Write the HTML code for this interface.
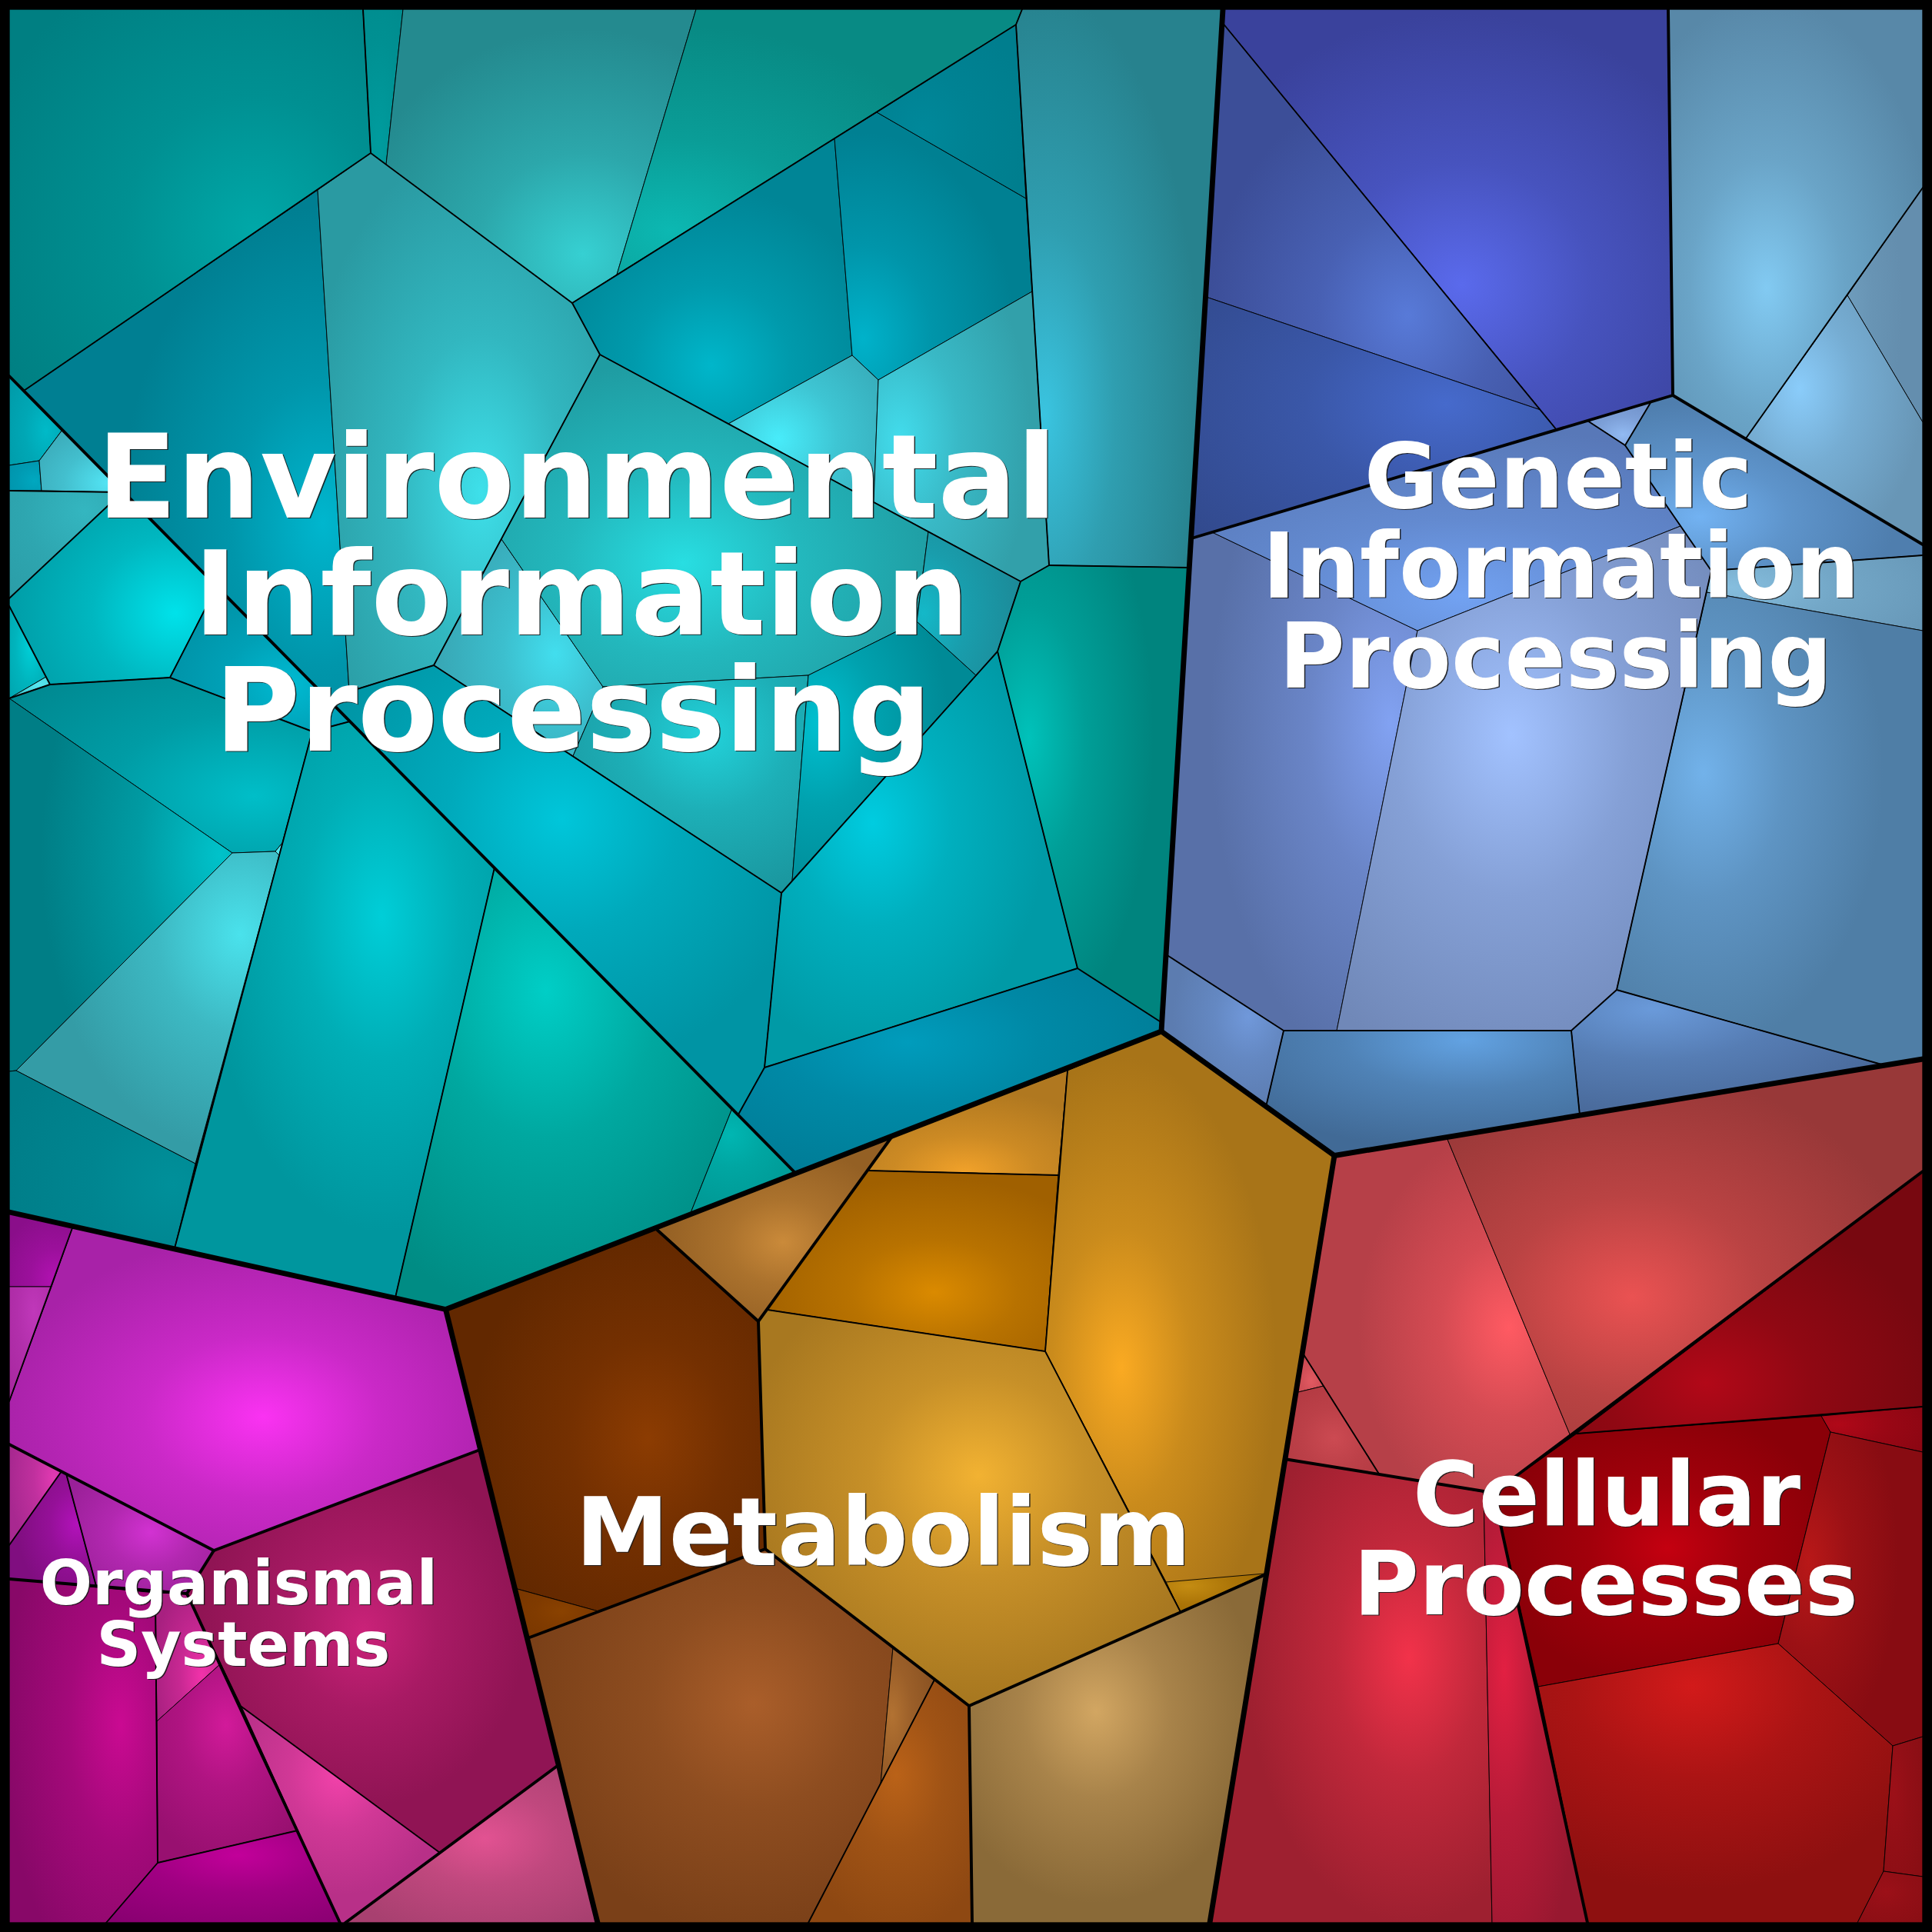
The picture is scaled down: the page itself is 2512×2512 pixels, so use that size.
<!DOCTYPE html>
<html><head><meta charset="utf-8"><title>Treemap</title>
<style>
html,body{margin:0;padding:0;background:#000;}
svg{display:block;}
text{font-family:"DejaVu Sans","Liberation Sans",sans-serif;font-weight:bold;text-anchor:middle;}
</style></head><body>
<svg width="2512" height="2512" viewBox="0 0 2512 2512">
<defs>
<radialGradient id="g0" cx="0.6766" cy="0.5806" r="0.7870" fx="0.6766" fy="0.5806"><stop offset="0" stop-color="#00a8a8"/><stop offset="0.45" stop-color="#009092"/><stop offset="1" stop-color="#007f82"/></radialGradient>
<radialGradient id="g1" cx="0.3846" cy="0.8564" r="1.4636" fx="0.3846" fy="0.8564"><stop offset="0" stop-color="#009c9e"/><stop offset="0.45" stop-color="#009092"/><stop offset="1" stop-color="#00878a"/></radialGradient>
<radialGradient id="g2" cx="0.6352" cy="0.8325" r="0.7646" fx="0.6352" fy="0.8325"><stop offset="0" stop-color="#36d0d2"/><stop offset="0.45" stop-color="#2ca7ab"/><stop offset="1" stop-color="#248a8f"/></radialGradient>
<radialGradient id="g3" cx="0.1328" cy="0.8348" r="0.7739" fx="0.1328" fy="0.8348"><stop offset="0" stop-color="#0cb8b2"/><stop offset="0.45" stop-color="#0a9d97"/><stop offset="1" stop-color="#088a84"/></radialGradient>
<radialGradient id="g4" cx="0.9196" cy="0.6551" r="0.6241" fx="0.9196" fy="0.6551"><stop offset="0" stop-color="#00b6ce"/><stop offset="0.45" stop-color="#0096ab"/><stop offset="1" stop-color="#007f92"/></radialGradient>
<radialGradient id="g5" cx="0.5777" cy="0.6300" r="0.6511" fx="0.5777" fy="0.6300"><stop offset="0" stop-color="#3ee0ea"/><stop offset="0.45" stop-color="#32b7c0"/><stop offset="1" stop-color="#2a9aa2"/></radialGradient>
<radialGradient id="g6" cx="0.1375" cy="0.7273" r="0.7581" fx="0.1375" fy="0.7273"><stop offset="0" stop-color="#3ac4e0"/><stop offset="0.45" stop-color="#2f9eb0"/><stop offset="1" stop-color="#27828e"/></radialGradient>
<radialGradient id="g7" cx="0.4973" cy="0.7951" r="0.6259" fx="0.4973" fy="0.7951"><stop offset="0" stop-color="#00b6ca"/><stop offset="0.45" stop-color="#009aac"/><stop offset="1" stop-color="#008596"/></radialGradient>
<radialGradient id="g8" cx="0.1440" cy="0.8448" r="0.7691" fx="0.1440" fy="0.8448"><stop offset="0" stop-color="#00b2ca"/><stop offset="0.45" stop-color="#0095aa"/><stop offset="1" stop-color="#008092"/></radialGradient>
<radialGradient id="g9" cx="0.3093" cy="0.6106" r="0.7164" fx="0.3093" fy="0.6106"><stop offset="0" stop-color="#00889a"/><stop offset="0.45" stop-color="#008293"/><stop offset="1" stop-color="#007e8e"/></radialGradient>
<radialGradient id="g10" cx="0.3333" cy="0.5654" r="0.8809" fx="0.3333" fy="0.5654"><stop offset="0" stop-color="#48ecfa"/><stop offset="0.45" stop-color="#3ec5d3"/><stop offset="1" stop-color="#36a8b6"/></radialGradient>
<radialGradient id="g11" cx="0.1491" cy="0.5066" r="0.7504" fx="0.1491" fy="0.5066"><stop offset="0" stop-color="#42dcec"/><stop offset="0.45" stop-color="#39b9c6"/><stop offset="1" stop-color="#32a0aa"/></radialGradient>
<radialGradient id="g12" cx="0.7182" cy="0.5284" r="0.6825" fx="0.7182" fy="0.5284"><stop offset="0" stop-color="#42deee"/><stop offset="0.45" stop-color="#3cbfce"/><stop offset="1" stop-color="#38a8b6"/></radialGradient>
<radialGradient id="g13" cx="0.4252" cy="0.6273" r="0.6127" fx="0.4252" fy="0.6273"><stop offset="0" stop-color="#28dee2"/><stop offset="0.45" stop-color="#23b8bd"/><stop offset="1" stop-color="#1f9ca2"/></radialGradient>
<radialGradient id="g14" cx="0.5719" cy="0.2721" r="0.7816" fx="0.5719" fy="0.2721"><stop offset="0" stop-color="#22d2da"/><stop offset="0.45" stop-color="#1dafb7"/><stop offset="1" stop-color="#1a969e"/></radialGradient>
<radialGradient id="g15" cx="0.1464" cy="0.3917" r="0.7047" fx="0.1464" fy="0.3917"><stop offset="0" stop-color="#00c0d0"/><stop offset="0.45" stop-color="#00a1ae"/><stop offset="1" stop-color="#008a96"/></radialGradient>
<radialGradient id="g16" cx="0.0667" cy="0.5668" r="0.9441" fx="0.0667" fy="0.5668"><stop offset="0" stop-color="#14b8c8"/><stop offset="0.45" stop-color="#199dac"/><stop offset="1" stop-color="#1c8a98"/></radialGradient>
<radialGradient id="g17" cx="0.5153" cy="0.3425" r="0.5622" fx="0.5153" fy="0.3425"><stop offset="0" stop-color="#00c6da"/><stop offset="0.45" stop-color="#00a9bb"/><stop offset="1" stop-color="#0094a4"/></radialGradient>
<radialGradient id="g18" cx="0.3464" cy="0.4122" r="0.5541" fx="0.3464" fy="0.4122"><stop offset="0" stop-color="#00cce0"/><stop offset="0.45" stop-color="#00afbe"/><stop offset="1" stop-color="#009aa6"/></radialGradient>
<radialGradient id="g19" cx="0.1647" cy="0.3782" r="0.6495" fx="0.1647" fy="0.3782"><stop offset="0" stop-color="#00c2ba"/><stop offset="0.45" stop-color="#009e97"/><stop offset="1" stop-color="#00847e"/></radialGradient>
<radialGradient id="g20" cx="0.3993" cy="0.3609" r="0.6922" fx="0.3993" fy="0.3609"><stop offset="0" stop-color="#009cbc"/><stop offset="0.45" stop-color="#0089a6"/><stop offset="1" stop-color="#007c96"/></radialGradient>
<radialGradient id="g21" cx="0.6957" cy="0.6121" r="0.8942" fx="0.6957" fy="0.6121"><stop offset="0" stop-color="#00bac8"/><stop offset="0.45" stop-color="#00a7b5"/><stop offset="1" stop-color="#009aa8"/></radialGradient>
<radialGradient id="g22" cx="0.7857" cy="0.6667" r="1.2354" fx="0.7857" fy="0.6667"><stop offset="0" stop-color="#00a8c0"/><stop offset="0.45" stop-color="#009ab2"/><stop offset="1" stop-color="#0090a8"/></radialGradient>
<radialGradient id="g23" cx="0.8241" cy="0.8519" r="1.1761" fx="0.8241" fy="0.8519"><stop offset="0" stop-color="#52e4f4"/><stop offset="0.45" stop-color="#43bfce"/><stop offset="1" stop-color="#38a4b2"/></radialGradient>
<radialGradient id="g24" cx="0.6667" cy="0.1929" r="1.1850" fx="0.6667" fy="0.1929"><stop offset="0" stop-color="#34b6c0"/><stop offset="0.45" stop-color="#2ea6b0"/><stop offset="1" stop-color="#2a9aa4"/></radialGradient>
<radialGradient id="g25" cx="0.8000" cy="0.6280" r="0.8853" fx="0.8000" fy="0.6280"><stop offset="0" stop-color="#00e2ea"/><stop offset="0.45" stop-color="#00b7c0"/><stop offset="1" stop-color="#0098a2"/></radialGradient>
<radialGradient id="g26" cx="0.5833" cy="0.4333" r="0.9223" fx="0.5833" fy="0.4333"><stop offset="0" stop-color="#00d0d8"/><stop offset="0.45" stop-color="#00b4bd"/><stop offset="1" stop-color="#00a0aa"/></radialGradient>
<radialGradient id="g27" cx="0.7170" cy="0.3571" r="1.2979" fx="0.7170" fy="0.3571"><stop offset="0" stop-color="#58e8f0"/><stop offset="0.45" stop-color="#41ccd6"/><stop offset="1" stop-color="#30b8c4"/></radialGradient>
<radialGradient id="g28" cx="0.6624" cy="0.6772" r="0.8084" fx="0.6624" fy="0.6772"><stop offset="0" stop-color="#00bad2"/><stop offset="0.45" stop-color="#00a0b6"/><stop offset="1" stop-color="#008ea2"/></radialGradient>
<radialGradient id="g29" cx="0.8071" cy="0.6754" r="1.0677" fx="0.8071" fy="0.6754"><stop offset="0" stop-color="#00bec8"/><stop offset="0.45" stop-color="#009ca5"/><stop offset="1" stop-color="#00848c"/></radialGradient>
<radialGradient id="g30" cx="0.9414" cy="0.4206" r="0.7999" fx="0.9414" fy="0.4206"><stop offset="0" stop-color="#00c2ca"/><stop offset="0.45" stop-color="#009ba3"/><stop offset="1" stop-color="#007e86"/></radialGradient>
<radialGradient id="g31" cx="0.8509" cy="0.2660" r="0.6977" fx="0.8509" fy="0.2660"><stop offset="0" stop-color="#4ae2ec"/><stop offset="0.45" stop-color="#3db9c3"/><stop offset="1" stop-color="#349ca6"/></radialGradient>
<radialGradient id="g32" cx="0.4444" cy="0.5625" r="1.6667" fx="0.4444" fy="0.5625"><stop offset="0" stop-color="#50e8f0"/><stop offset="0.45" stop-color="#50e8f0"/><stop offset="1" stop-color="#50e8f0"/></radialGradient>
<radialGradient id="g33" cx="0.8802" cy="0.6407" r="0.9728" fx="0.8802" fy="0.6407"><stop offset="0" stop-color="#00909a"/><stop offset="0.45" stop-color="#008590"/><stop offset="1" stop-color="#007d88"/></radialGradient>
<radialGradient id="g34" cx="0.6466" cy="0.3391" r="0.5464" fx="0.6466" fy="0.3391"><stop offset="0" stop-color="#00ced8"/><stop offset="0.45" stop-color="#00aeb6"/><stop offset="1" stop-color="#00969e"/></radialGradient>
<radialGradient id="g35" cx="0.4475" cy="0.2785" r="0.7376" fx="0.4475" fy="0.2785"><stop offset="0" stop-color="#00cec6"/><stop offset="0.45" stop-color="#00a8a0"/><stop offset="1" stop-color="#008c84"/></radialGradient>
<radialGradient id="g36" cx="0.3824" cy="0.2500" r="0.6985" fx="0.3824" fy="0.2500"><stop offset="0" stop-color="#00b6b2"/><stop offset="0.45" stop-color="#00a6a2"/><stop offset="1" stop-color="#009a96"/></radialGradient>
<radialGradient id="g37" cx="0.5307" cy="0.6545" r="0.6447" fx="0.5307" fy="0.6545"><stop offset="0" stop-color="#5a6aec"/><stop offset="0.45" stop-color="#4753be"/><stop offset="1" stop-color="#3a429c"/></radialGradient>
<radialGradient id="g38" cx="0.6023" cy="0.7560" r="0.5980" fx="0.6023" fy="0.7560"><stop offset="0" stop-color="#587ad8"/><stop offset="0.45" stop-color="#4860b3"/><stop offset="1" stop-color="#3c4e98"/></radialGradient>
<radialGradient id="g39" cx="0.6968" cy="0.4427" r="0.8545" fx="0.6968" fy="0.4427"><stop offset="0" stop-color="#466acc"/><stop offset="0.45" stop-color="#3a57a8"/><stop offset="1" stop-color="#324a8e"/></radialGradient>
<radialGradient id="g40" cx="0.3867" cy="0.6505" r="0.6748" fx="0.3867" fy="0.6505"><stop offset="0" stop-color="#82caf2"/><stop offset="0.45" stop-color="#6aa4c7"/><stop offset="1" stop-color="#5888a8"/></radialGradient>
<radialGradient id="g41" cx="0.0306" cy="0.5115" r="0.6941" fx="0.0306" fy="0.5115"><stop offset="0" stop-color="#6e9cbc"/><stop offset="0.45" stop-color="#6894b4"/><stop offset="1" stop-color="#648eae"/></radialGradient>
<radialGradient id="g42" cx="0.3043" cy="0.3735" r="0.6960" fx="0.3043" fy="0.3735"><stop offset="0" stop-color="#8accfa"/><stop offset="0.45" stop-color="#76add3"/><stop offset="1" stop-color="#6896b6"/></radialGradient>
<radialGradient id="g43" cx="0.5542" cy="0.7544" r="0.8723" fx="0.5542" fy="0.7544"><stop offset="0" stop-color="#92baf2"/><stop offset="0.45" stop-color="#7da0d8"/><stop offset="1" stop-color="#6e8ec6"/></radialGradient>
<radialGradient id="g44" cx="0.8930" cy="0.3827" r="0.7169" fx="0.8930" fy="0.3827"><stop offset="0" stop-color="#82a2f2"/><stop offset="0.45" stop-color="#6a85c7"/><stop offset="1" stop-color="#5870a8"/></radialGradient>
<radialGradient id="g45" cx="0.5320" cy="0.8352" r="0.8093" fx="0.5320" fy="0.8352"><stop offset="0" stop-color="#72a2f2"/><stop offset="0.45" stop-color="#638ad0"/><stop offset="1" stop-color="#5878b8"/></radialGradient>
<radialGradient id="g46" cx="0.4661" cy="0.4131" r="0.7077" fx="0.4661" fy="0.4131"><stop offset="0" stop-color="#a2c2ff"/><stop offset="0.45" stop-color="#85a0d6"/><stop offset="1" stop-color="#7088b8"/></radialGradient>
<radialGradient id="g47" cx="0.2506" cy="0.6930" r="0.6565" fx="0.2506" fy="0.6930"><stop offset="0" stop-color="#72b2f2"/><stop offset="0.45" stop-color="#5e94cb"/><stop offset="1" stop-color="#4f7eae"/></radialGradient>
<radialGradient id="g48" cx="0.1103" cy="0.4286" r="1.0847" fx="0.1103" fy="0.4286"><stop offset="0" stop-color="#86bede"/><stop offset="0.45" stop-color="#73a7c7"/><stop offset="1" stop-color="#6696b6"/></radialGradient>
<radialGradient id="g49" cx="0.2839" cy="0.3821" r="0.5862" fx="0.2839" fy="0.3821"><stop offset="0" stop-color="#72b2ea"/><stop offset="0.45" stop-color="#5e94c3"/><stop offset="1" stop-color="#4f7ea6"/></radialGradient>
<radialGradient id="g50" cx="0.2629" cy="0.1534" r="0.8930" fx="0.2629" fy="0.1534"><stop offset="0" stop-color="#6a9ada"/><stop offset="0.45" stop-color="#567db4"/><stop offset="1" stop-color="#486898"/></radialGradient>
<radialGradient id="g51" cx="0.6348" cy="0.0738" r="0.8738" fx="0.6348" fy="0.0738"><stop offset="0" stop-color="#62a2e2"/><stop offset="0.45" stop-color="#4f82b6"/><stop offset="1" stop-color="#416a96"/></radialGradient>
<radialGradient id="g52" cx="0.7107" cy="0.4091" r="0.6200" fx="0.7107" fy="0.4091"><stop offset="0" stop-color="#7098da"/><stop offset="0.45" stop-color="#6488c2"/><stop offset="1" stop-color="#5c7cb0"/></radialGradient>
<radialGradient id="g53" cx="0.6342" cy="0.5491" r="0.5600" fx="0.6342" fy="0.5491"><stop offset="0" stop-color="#8c3c02"/><stop offset="0.45" stop-color="#743001"/><stop offset="1" stop-color="#622800"/></radialGradient>
<radialGradient id="g54" cx="0.5596" cy="0.4615" r="0.7128" fx="0.5596" fy="0.4615"><stop offset="0" stop-color="#8a4200"/><stop offset="0.45" stop-color="#803b00"/><stop offset="1" stop-color="#783600"/></radialGradient>
<radialGradient id="g55" cx="0.5387" cy="0.5744" r="0.5111" fx="0.5387" fy="0.5744"><stop offset="0" stop-color="#ca8a3a"/><stop offset="0.45" stop-color="#ab722d"/><stop offset="1" stop-color="#946024"/></radialGradient>
<radialGradient id="g56" cx="0.4865" cy="0.9779" r="0.7992" fx="0.4865" fy="0.9779"><stop offset="0" stop-color="#f2a22a"/><stop offset="0.45" stop-color="#cc8a24"/><stop offset="1" stop-color="#b07820"/></radialGradient>
<radialGradient id="g57" cx="0.5741" cy="0.6723" r="0.6375" fx="0.5741" fy="0.6723"><stop offset="0" stop-color="#da8a00"/><stop offset="0.45" stop-color="#b87200"/><stop offset="1" stop-color="#a06000"/></radialGradient>
<radialGradient id="g58" cx="0.2633" cy="0.5788" r="0.5349" fx="0.2633" fy="0.5788"><stop offset="0" stop-color="#faaa22"/><stop offset="0.45" stop-color="#ca8b1c"/><stop offset="1" stop-color="#a87418"/></radialGradient>
<radialGradient id="g59" cx="0.2266" cy="0.3200" r="1.0000" fx="0.2266" fy="0.3200"><stop offset="0" stop-color="#c48c12"/><stop offset="0.45" stop-color="#ac7508"/><stop offset="1" stop-color="#9a6400"/></radialGradient>
<radialGradient id="g60" cx="0.5209" cy="0.4175" r="0.5642" fx="0.5209" fy="0.4175"><stop offset="0" stop-color="#f2b232"/><stop offset="0.45" stop-color="#c79028"/><stop offset="1" stop-color="#a87820"/></radialGradient>
<radialGradient id="g61" cx="0.6189" cy="0.4136" r="0.6244" fx="0.6189" fy="0.4136"><stop offset="0" stop-color="#aa5e2a"/><stop offset="0.45" stop-color="#8e4d20"/><stop offset="1" stop-color="#7a4018"/></radialGradient>
<radialGradient id="g62" cx="0.2143" cy="0.4944" r="0.8063" fx="0.2143" fy="0.4944"><stop offset="0" stop-color="#b27232"/><stop offset="0.45" stop-color="#9b5f29"/><stop offset="1" stop-color="#8a5222"/></radialGradient>
<radialGradient id="g63" cx="0.5352" cy="0.3924" r="0.6553" fx="0.5352" fy="0.3924"><stop offset="0" stop-color="#ba6218"/><stop offset="0.45" stop-color="#a05315"/><stop offset="1" stop-color="#8e4812"/></radialGradient>
<radialGradient id="g64" cx="0.4275" cy="0.3929" r="0.5500" fx="0.4275" fy="0.3929"><stop offset="0" stop-color="#d2a662"/><stop offset="0.45" stop-color="#a8834a"/><stop offset="1" stop-color="#8a6a38"/></radialGradient>
<radialGradient id="g65" cx="0.5392" cy="0.5877" r="0.5608" fx="0.5392" fy="0.5877"><stop offset="0" stop-color="#fa32f2"/><stop offset="0.45" stop-color="#ca29c7"/><stop offset="1" stop-color="#a822a8"/></radialGradient>
<radialGradient id="g66" cx="0.7229" cy="0.8866" r="0.8916" fx="0.7229" fy="0.8866"><stop offset="0" stop-color="#b212b2"/><stop offset="0.45" stop-color="#9b109b"/><stop offset="1" stop-color="#8a0e8a"/></radialGradient>
<radialGradient id="g67" cx="0.5818" cy="0.2215" r="0.8837" fx="0.5818" fy="0.2215"><stop offset="0" stop-color="#c038ba"/><stop offset="0.45" stop-color="#b22fab"/><stop offset="1" stop-color="#a828a0"/></radialGradient>
<radialGradient id="g68" cx="0.8529" cy="0.3359" r="0.8476" fx="0.8529" fy="0.3359"><stop offset="0" stop-color="#e23ab2"/><stop offset="0.45" stop-color="#c0309e"/><stop offset="1" stop-color="#a82890"/></radialGradient>
<radialGradient id="g69" cx="0.7788" cy="0.4631" r="0.6936" fx="0.7788" fy="0.4631"><stop offset="0" stop-color="#b212ba"/><stop offset="0.45" stop-color="#951098"/><stop offset="1" stop-color="#800e80"/></radialGradient>
<radialGradient id="g70" cx="0.5729" cy="0.4872" r="0.6356" fx="0.5729" fy="0.4872"><stop offset="0" stop-color="#d232d2"/><stop offset="0.45" stop-color="#b228b0"/><stop offset="1" stop-color="#9a2098"/></radialGradient>
<radialGradient id="g71" cx="0.4741" cy="0.4485" r="0.4373" fx="0.4741" fy="0.4485"><stop offset="0" stop-color="#ca2279"/><stop offset="0.45" stop-color="#a81a64"/><stop offset="1" stop-color="#901454"/></radialGradient>
<radialGradient id="g72" cx="0.4884" cy="0.3167" r="0.5571" fx="0.4884" fy="0.3167"><stop offset="0" stop-color="#f242aa"/><stop offset="0.45" stop-color="#d03896"/><stop offset="1" stop-color="#b83088"/></radialGradient>
<radialGradient id="g73" cx="0.5518" cy="0.4634" r="0.6556" fx="0.5518" fy="0.4634"><stop offset="0" stop-color="#e25292"/><stop offset="0.45" stop-color="#c0487e"/><stop offset="1" stop-color="#a84070"/></radialGradient>
<radialGradient id="g74" cx="0.7513" cy="0.4251" r="0.7831" fx="0.7513" fy="0.4251"><stop offset="0" stop-color="#ca0a92"/><stop offset="0.45" stop-color="#a4097a"/><stop offset="1" stop-color="#880868"/></radialGradient>
<radialGradient id="g75" cx="0.7143" cy="0.6407" r="0.7599" fx="0.7143" fy="0.6407"><stop offset="0" stop-color="#f232aa"/><stop offset="0.45" stop-color="#c72892"/><stop offset="1" stop-color="#a82080"/></radialGradient>
<radialGradient id="g76" cx="0.4918" cy="0.3062" r="0.6903" fx="0.4918" fy="0.3062"><stop offset="0" stop-color="#d21a9a"/><stop offset="0.45" stop-color="#b01482"/><stop offset="1" stop-color="#981070"/></radialGradient>
<radialGradient id="g77" cx="0.5658" cy="0.2667" r="0.8901" fx="0.5658" fy="0.2667"><stop offset="0" stop-color="#c2009a"/><stop offset="0.45" stop-color="#a00082"/><stop offset="1" stop-color="#880070"/></radialGradient>
<radialGradient id="g78" cx="0.7708" cy="0.5346" r="0.5603" fx="0.7708" fy="0.5346"><stop offset="0" stop-color="#ff5a62"/><stop offset="0.45" stop-color="#d54b53"/><stop offset="1" stop-color="#b64048"/></radialGradient>
<radialGradient id="g79" cx="0.3893" cy="0.6306" r="0.5992" fx="0.3893" fy="0.6306"><stop offset="0" stop-color="#ea5252"/><stop offset="0.45" stop-color="#ba4343"/><stop offset="1" stop-color="#983838"/></radialGradient>
<radialGradient id="g80" cx="0.5676" cy="0.6981" r="0.6775" fx="0.5676" fy="0.6981"><stop offset="0" stop-color="#e25a62"/><stop offset="0.45" stop-color="#d35058"/><stop offset="1" stop-color="#c84850"/></radialGradient>
<radialGradient id="g81" cx="0.5242" cy="0.5862" r="0.7504" fx="0.5242" fy="0.5862"><stop offset="0" stop-color="#cc4a52"/><stop offset="0.45" stop-color="#bc4048"/><stop offset="1" stop-color="#b03840"/></radialGradient>
<radialGradient id="g82" cx="0.7057" cy="0.4279" r="0.5739" fx="0.7057" fy="0.4279"><stop offset="0" stop-color="#f2324a"/><stop offset="0.45" stop-color="#c1283b"/><stop offset="1" stop-color="#9e2030"/></radialGradient>
<radialGradient id="g83" cx="0.2000" cy="0.4143" r="0.7638" fx="0.2000" fy="0.4143"><stop offset="0" stop-color="#e22042"/><stop offset="0.45" stop-color="#b71b38"/><stop offset="1" stop-color="#981830"/></radialGradient>
<radialGradient id="g84" cx="0.3733" cy="0.8065" r="0.6637" fx="0.3733" fy="0.8065"><stop offset="0" stop-color="#b20818"/><stop offset="0.45" stop-color="#900813"/><stop offset="1" stop-color="#780810"/></radialGradient>
<radialGradient id="g85" cx="0.5160" cy="0.4886" r="0.5094" fx="0.5160" fy="0.4886"><stop offset="0" stop-color="#c40010"/><stop offset="0.45" stop-color="#a2000b"/><stop offset="1" stop-color="#8a0008"/></radialGradient>
<radialGradient id="g86" cx="0.1667" cy="0.3898" r="1.0198" fx="0.1667" fy="0.3898"><stop offset="0" stop-color="#b00818"/><stop offset="0.45" stop-color="#9a0715"/><stop offset="1" stop-color="#8a0612"/></radialGradient>
<radialGradient id="g87" cx="0.2128" cy="0.4118" r="0.6138" fx="0.2128" fy="0.4118"><stop offset="0" stop-color="#b81818"/><stop offset="0.45" stop-color="#9c1115"/><stop offset="1" stop-color="#880c12"/></radialGradient>
<radialGradient id="g88" cx="0.4338" cy="0.1515" r="0.7334" fx="0.4338" fy="0.1515"><stop offset="0" stop-color="#d21a1a"/><stop offset="0.45" stop-color="#ab1414"/><stop offset="1" stop-color="#8e1010"/></radialGradient>
<radialGradient id="g89" cx="0.2549" cy="0.3956" r="0.8304" fx="0.2549" fy="0.3956"><stop offset="0" stop-color="#9c1018"/><stop offset="0.45" stop-color="#920f16"/><stop offset="1" stop-color="#8a0e14"/></radialGradient>
<radialGradient id="g90" cx="0.4353" cy="0.4030" r="0.7951" fx="0.4353" fy="0.4030"><stop offset="0" stop-color="#9c1018"/><stop offset="0.45" stop-color="#920f16"/><stop offset="1" stop-color="#8a0e14"/></radialGradient>
</defs>
<rect x="0" y="0" width="2512" height="2512" fill="#000"/>
<g stroke="#000" stroke-width="0.9" stroke-linejoin="round">
<polygon fill="url(#g0)" points="12,12 472,12 482,199 31,508 12,489"/>
<polygon fill="url(#g1)" points="472,12 524,12 502,214 482,199"/>
<polygon fill="url(#g2)" points="524,12 905,12 802,357 744,394 502,214"/>
<polygon fill="url(#g3)" points="905,12 1329,12 1321,32 802,357"/>
<polygon fill="url(#g4)" points="31,508 413,247 454,899 426,908"/>
<polygon fill="url(#g5)" points="413,247 482,199 744,394 780,461 564,865 454,899"/>
<polygon fill="url(#g6)" points="1329,12 1590,12 1546,738 1364,735 1321,32"/>
<polygon fill="url(#g7)" points="744,394 1085,180 1108,462 947,551 780,461"/>
<polygon fill="url(#g8)" points="1085,180 1140,146 1334,258 1342,379 1142,494 1108,462"/>
<polygon fill="url(#g9)" points="1140,146 1321,32 1334,258"/>
<polygon fill="url(#g10)" points="947,551 1108,462 1142,494 1136,653"/>
<polygon fill="url(#g11)" points="1142,494 1342,379 1364,735 1327,756 1136,653"/>
<polygon fill="url(#g12)" points="652,701 784,893 745,983 564,865"/>
<polygon fill="url(#g13)" points="780,461 1207,691 1192,808 1051,878 784,893 652,701"/>
<polygon fill="url(#g14)" points="784,893 1051,878 1030,1145 1016,1161 745,983"/>
<polygon fill="url(#g15)" points="1051,878 1192,808 1269,878 1030,1145"/>
<polygon fill="url(#g16)" points="1207,691 1327,756 1297,847 1269,878 1192,808"/>
<polygon fill="url(#g17)" points="426,908 564,865 1016,1161 994,1388 960,1449"/>
<polygon fill="url(#g18)" points="1297,847 1401,1259 994,1388 1016,1161"/>
<polygon fill="url(#g19)" points="1364,735 1546,738 1511,1330 1401,1259 1297,847 1327,756"/>
<polygon fill="url(#g20)" points="994,1388 1401,1259 1511,1330 1510,1341 1034,1525 960,1449"/>
<polygon fill="url(#g21)" points="12,489 81,559 51,599 12,605"/>
<polygon fill="url(#g22)" points="12,605 51,599 54,638 12,638"/>
<polygon fill="url(#g23)" points="81,559 159,640 54,638 51,599"/>
<polygon fill="url(#g24)" points="12,638 159,640 12,778"/>
<polygon fill="url(#g25)" points="12,778 159,640 282,762 221,881 65,890 12,788"/>
<polygon fill="url(#g26)" points="12,788 60,880 12,908"/>
<polygon fill="url(#g27)" points="60,880 65,890 12,908"/>
<polygon fill="url(#g28)" points="282,762 455,938 406,951 221,881"/>
<polygon fill="url(#g29)" points="12,908 65,890 221,881 406,951 367,1096 358,1107 302,1109"/>
<polygon fill="url(#g30)" points="12,908 302,1109 21,1392 12,1393"/>
<polygon fill="url(#g31)" points="302,1109 358,1107 363,1112 254,1513 21,1392"/>
<polygon fill="url(#g32)" points="358,1107 367,1096 363,1112"/>
<polygon fill="url(#g33)" points="12,1393 21,1392 254,1513 227,1623 12,1576"/>
<polygon fill="url(#g34)" points="406,951 455,938 643,1128 514,1687 227,1623"/>
<polygon fill="url(#g35)" points="643,1128 952,1441 898,1577 579.5,1702.5 514,1687"/>
<polygon fill="url(#g36)" points="952,1441 1034,1525 898,1577"/>
<polygon fill="url(#g37)" points="1590,12 2169,12 2175,514 2024,559 1589,29"/>
<polygon fill="url(#g38)" points="1589,29 2003,533 1568,386"/>
<polygon fill="url(#g39)" points="1568,386 2003,533 2024,559 1549,700"/>
<polygon fill="url(#g40)" points="2169,12 2500,12 2500,244 2270,570 2175,514"/>
<polygon fill="url(#g41)" points="2500,244 2500,549 2402,384"/>
<polygon fill="url(#g42)" points="2402,384 2500,549 2500,708 2270,570"/>
<polygon fill="url(#g43)" points="2064,547 2147,522 2113,579"/>
<polygon fill="url(#g44)" points="1549,700 1576,692 1843,820 1738,1340 1669,1340 1516,1241"/>
<polygon fill="url(#g45)" points="1576,692 2064,547 2113,579 2185,684 1843,820"/>
<polygon fill="url(#g46)" points="1843,820 2185,684 2225,742 2102,1287 2043,1340 1738,1340"/>
<polygon fill="url(#g47)" points="2147,522 2175,514 2500,708 2500,722 2225,742 2113,579"/>
<polygon fill="url(#g48)" points="2225,742 2500,722 2500,820 2219,770"/>
<polygon fill="url(#g49)" points="2219,770 2500,820 2500,1377 2450,1385 2102,1287"/>
<polygon fill="url(#g50)" points="2102,1287 2450,1385 2054,1450 2043,1340"/>
<polygon fill="url(#g51)" points="1669,1340 2043,1340 2054,1450 1735,1502.5 1646,1439"/>
<polygon fill="url(#g52)" points="1516,1241 1669,1340 1646,1439 1510,1341"/>
<polygon fill="url(#g53)" points="579.5,1702.5 851,1596 986,1718 995,2014 778,2095 669,2065"/>
<polygon fill="url(#g54)" points="669,2065 778,2095 686,2130"/>
<polygon fill="url(#g55)" points="851,1596 1161,1476 986,1718"/>
<polygon fill="url(#g56)" points="1161,1476 1388,1392 1376,1528 1129,1522"/>
<polygon fill="url(#g57)" points="1129,1522 1376,1528 1359,1757 998,1703"/>
<polygon fill="url(#g58)" points="1388,1392 1510,1341 1735,1502.5 1646,2047 1535,2096 1516,2057 1359,1757 1376,1528"/>
<polygon fill="url(#g59)" points="1516,2057 1644,2046 1535,2096"/>
<polygon fill="url(#g60)" points="998,1703 1359,1757 1516,2057 1535,2096 1260,2218 995,2014 986,1718"/>
<polygon fill="url(#g61)" points="686,2130 995,2014 1161,2142 1145,2320 1051,2500 777,2500"/>
<polygon fill="url(#g62)" points="1161,2142 1215,2184 1145,2320"/>
<polygon fill="url(#g63)" points="1215,2184 1260,2218 1264,2500 1051,2500"/>
<polygon fill="url(#g64)" points="1260,2218 1646,2047 1573,2500 1264,2500"/>
<polygon fill="url(#g65)" points="95,1594 579.5,1702.5 624,1885 278,2016 12,1878 12,1822"/>
<polygon fill="url(#g66)" points="12,1576 95,1594 67,1673 12,1673"/>
<polygon fill="url(#g67)" points="12,1673 67,1673 12,1822"/>
<polygon fill="url(#g68)" points="12,1878 80,1913 12,2009"/>
<polygon fill="url(#g69)" points="80,1913 86,1916 125,2062 12,2053 12,2009"/>
<polygon fill="url(#g70)" points="86,1916 278,2016 243,2072 125,2062"/>
<polygon fill="url(#g71)" points="278,2016 624,1885 726,2295 572,2409 314,2219 243,2072"/>
<polygon fill="url(#g72)" points="314,2219 572,2409 449,2500 442,2500"/>
<polygon fill="url(#g73)" points="726,2295 777,2500 449,2500"/>
<polygon fill="url(#g74)" points="12,2053 202,2071 205,2422 138,2500 12,2500"/>
<polygon fill="url(#g75)" points="202,2071 243,2072 286,2164 204,2238"/>
<polygon fill="url(#g76)" points="204,2238 286,2164 387,2380 205,2422"/>
<polygon fill="url(#g77)" points="205,2422 387,2380 442,2500 138,2500"/>
<polygon fill="url(#g78)" points="1735,1502.5 1881,1479 2042,1867 1942,1941 1794,1918 1721,1802 1693,1758"/>
<polygon fill="url(#g79)" points="1881,1479 2500,1377 2500,1523 2042,1867"/>
<polygon fill="url(#g80)" points="1693,1758 1721,1802 1684,1811"/>
<polygon fill="url(#g81)" points="1684,1811 1721,1802 1794,1918 1670,1897"/>
<polygon fill="url(#g82)" points="1670,1897 1929,1940 1940,2500 1573,2500"/>
<polygon fill="url(#g83)" points="1929,1940 1942,1941 2064,2500 1940,2500"/>
<polygon fill="url(#g84)" points="2500,1523 2500,1829 2050,1864"/>
<polygon fill="url(#g85)" points="2050,1864 2368,1841 2380,1862 2312,2137 2000,2193 1942,1941"/>
<polygon fill="url(#g86)" points="2368,1841 2500,1829 2500,1888 2380,1862"/>
<polygon fill="url(#g87)" points="2380,1862 2500,1888 2500,2258 2461,2270 2312,2137"/>
<polygon fill="url(#g88)" points="2000,2193 2312,2137 2461,2270 2449,2433 2415,2500 2064,2500"/>
<polygon fill="url(#g89)" points="2461,2270 2500,2258 2500,2440 2449,2433"/>
<polygon fill="url(#g90)" points="2449,2433 2500,2440 2500,2500 2415,2500"/>
</g>
<g stroke="#000" stroke-width="1.9" stroke-linecap="round" fill="none">
<polyline points="472,12 482,199"/>
<polyline points="482,199 31,508"/>
<polyline points="482,199 744,394"/>
<polyline points="744,394 780,461"/>
<polyline points="744,394 1321,32"/>
<polyline points="1321,32 1329,12"/>
<polyline points="1321,32 1364,735"/>
<polyline points="1364,735 1546,738"/>
<polyline points="1364,735 1327,756"/>
<polyline points="1327,756 780,461"/>
<polyline points="1327,756 1297,847"/>
<polyline points="780,461 564,865"/>
<polyline points="564,865 426,908"/>
<polyline points="564,865 1016,1161"/>
<polyline points="1016,1161 1297,847"/>
<polyline points="1016,1161 994,1388"/>
<polyline points="994,1388 960,1449"/>
<polyline points="994,1388 1401,1259"/>
<polyline points="1297,847 1401,1259"/>
<polyline points="1401,1259 1511,1330"/>
<polyline points="12,638 159,640"/>
<polyline points="12,778 159,640"/>
<polyline points="12,788 65,890"/>
<polyline points="65,890 221,881"/>
<polyline points="221,881 282,762"/>
<polyline points="65,890 12,908"/>
<polyline points="221,881 406,951"/>
<polyline points="406,951 455,938"/>
<polyline points="406,951 227,1623"/>
<polyline points="643,1128 514,1687"/>
<polyline points="1589,29 2024,559"/>
<polyline points="2500,244 2270,570"/>
<polyline points="2064,547 2113,579"/>
<polyline points="2147,522 2113,579"/>
<polyline points="2113,579 2225,742"/>
<polyline points="2225,742 2500,722"/>
<polyline points="2225,742 2102,1287"/>
<polyline points="2102,1287 2450,1385"/>
<polyline points="2102,1287 2043,1340"/>
<polyline points="2043,1340 2054,1450"/>
<polyline points="2043,1340 1669,1340"/>
<polyline points="1669,1340 1646,1439"/>
<polyline points="1669,1340 1516,1241"/>
<polyline points="1388,1392 1359,1757"/>
<polyline points="1129,1522 1376,1528"/>
<polyline points="998,1703 1359,1757"/>
<polyline points="1359,1757 1535,2096"/>
<polyline points="1215,2184 1051,2500"/>
<polyline points="95,1594 12,1822"/>
<polyline points="80,1913 12,2009"/>
<polyline points="86,1916 125,2062"/>
<polyline points="314,2219 572,2409"/>
<polyline points="202,2071 205,2422"/>
<polyline points="205,2422 387,2380"/>
<polyline points="205,2422 138,2500"/>
<polyline points="1693,1758 1794,1918"/>
<polyline points="2050,1864 2500,1829"/>
</g>
<g stroke="#000" stroke-width="3.9" stroke-linecap="round" fill="none">
<polyline points="12,489 1034,1525"/>
<polyline points="2169,12 2175,514"/>
<polyline points="2175,514 1549,700"/>
<polyline points="2175,514 2500,708"/>
<polyline points="851,1596 986,1718"/>
<polyline points="986,1718 1161,1476"/>
<polyline points="986,1718 995,2014"/>
<polyline points="995,2014 686,2130"/>
<polyline points="995,2014 1260,2218"/>
<polyline points="1260,2218 1264,2500"/>
<polyline points="1260,2218 1646,2047"/>
<polyline points="12,1878 278,2016"/>
<polyline points="278,2016 624,1885"/>
<polyline points="278,2016 243,2072"/>
<polyline points="243,2072 12,2053"/>
<polyline points="243,2072 442,2500"/>
<polyline points="726,2295 449,2500"/>
<polyline points="2500,1523 1942,1941"/>
<polyline points="1670,1897 1942,1941"/>
<polyline points="1942,1941 2064,2500"/>
</g>
<g stroke="#000" stroke-width="6.9" stroke-linecap="round" fill="none">
<polyline points="1590,12 1510,1341"/>
<polyline points="1510,1341 579.5,1702.5"/>
<polyline points="579.5,1702.5 12,1576"/>
<polyline points="1510,1341 1735,1502.5"/>
<polyline points="1735,1502.5 2500,1377"/>
<polyline points="579.5,1702.5 777,2500"/>
<polyline points="1735,1502.5 1573,2500"/>
</g>
<rect x="6.2" y="6.2" width="2499.6" height="2499.6" fill="none" stroke="#000" stroke-width="12.4"/>
<text x="751.55" y="674.4" font-size="152" fill="#1a1a1a" opacity="0.9">Environmental</text>
<text x="750.15" y="673" font-size="152" fill="#fff">Environmental</text>
<text x="757.4" y="825.9" font-size="152" fill="#1a1a1a" opacity="0.9">Information</text>
<text x="756" y="824.5" font-size="152" fill="#fff">Information</text>
<text x="746.5" y="977.4" font-size="151.7" fill="#1a1a1a" opacity="0.9">Processing</text>
<text x="745.1" y="976" font-size="151.7" fill="#fff">Processing</text>
<text x="2027.6" y="661.4" font-size="117.35" fill="#1a1a1a" opacity="0.9">Genetic</text>
<text x="2026.2" y="660" font-size="117.35" fill="#fff">Genetic</text>
<text x="2031" y="777.9" font-size="117.05" fill="#1a1a1a" opacity="0.9">Information</text>
<text x="2029.6" y="776.5" font-size="117.05" fill="#fff">Information</text>
<text x="2024.15" y="895.4" font-size="117.05" fill="#1a1a1a" opacity="0.9">Processing</text>
<text x="2022.75" y="894" font-size="117.05" fill="#fff">Processing</text>
<text x="1149.7" y="2035.9" font-size="122.15" fill="#1a1a1a" opacity="0.9">Metabolism</text>
<text x="1148.3" y="2034.5" font-size="122.15" fill="#fff">Metabolism</text>
<text x="2090.4" y="1984.4" font-size="116.65" fill="#1a1a1a" opacity="0.9">Cellular</text>
<text x="2089" y="1983" font-size="116.65" fill="#fff">Cellular</text>
<text x="2089.3" y="2100.1" font-size="116.2" fill="#1a1a1a" opacity="0.9">Processes</text>
<text x="2087.9" y="2098.7" font-size="116.2" fill="#fff">Processes</text>
<text x="311.75" y="2087.4" font-size="80.3" fill="#1a1a1a" opacity="0.9">Organismal</text>
<text x="310.35" y="2086" font-size="80.3" fill="#fff">Organismal</text>
<text x="317.8" y="2167.4" font-size="80.2" fill="#1a1a1a" opacity="0.9">Systems</text>
<text x="316.4" y="2166" font-size="80.2" fill="#fff">Systems</text>
</svg></body></html>
